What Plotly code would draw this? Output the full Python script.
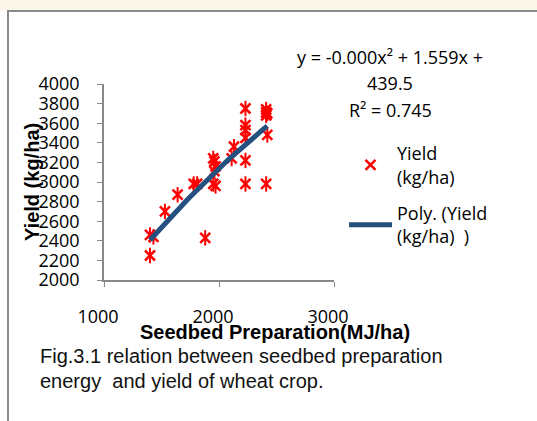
import numpy as np
import plotly.graph_objects as go

# ---- data ----
energy = [1400, 1400, 1430, 1530, 1640, 1780, 1810, 1880, 1950, 1970,
          1950, 1960, 1970, 1960, 2110, 2130, 2230, 2230, 2230, 2230,
          2230, 2230, 2410, 2410, 2410, 2420, 2410, 2420]
yield_kg = [2250, 2460, 2440, 2700, 2870, 2980, 2980, 2430, 2980, 2960,
            3240, 3210, 3160, 3110, 3240, 3360, 3220, 3750, 3580, 3530,
            3450, 2980, 3740, 3710, 3680, 3480, 2980, 3700]
x_ticks = [1000, 2000, 3000]
y_ticks = list(range(2000, 4001, 200))
eq_lines = ["y = -0.000x² + 1.559x +", "439.5", "R² = 0.745"]
caption = ["Fig.3.1 relation between seedbed preparation",
           "energy  and yield of wheat crop."]

# polynomial (order 2) trendline fitted to the data, as Excel does
coef = np.polyfit(energy, yield_kg, 2)
tx = np.linspace(min(energy), max(energy), 60)
ty = np.polyval(coef, tx)

# pixel helpers for layout placement
L, R, T, B = 104, 334, 84, 280
def px(x):
    return (x - L) / (R - L)
def py(y):
    return (B - y) / (B - T)

fig = go.Figure()
fig.add_trace(go.Scatter(
    x=energy, y=yield_kg, mode="markers", name="Yield<br>(kg/ha)",
    legendgroup="a",
    marker=dict(symbol="x-thin-open", size=10, color="#ff0000",
                line=dict(color="#ff0000", width=2.5))))
fig.add_trace(go.Scatter(
    x=energy, y=yield_kg, mode="markers", showlegend=False,
    legendgroup="a", hoverinfo="skip",
    marker=dict(symbol="line-ns-open", size=11, color="#ff0000",
                line=dict(color="#ff0000", width=2))))
fig.add_trace(go.Scatter(
    x=tx, y=ty, mode="lines", name="Poly. (Yield<br>(kg/ha)&nbsp;&nbsp;)",
    legendgroup="b",
    line=dict(color="#24507f", width=5)))

axis_common = dict(showgrid=False, zeroline=False, showline=True,
                   linecolor="#888888", linewidth=1.5, ticks="outside",
                   ticklen=5, tickcolor="#888888", tickwidth=1,
                   tickfont=dict(family="Open Sans", size=18, color="#000000"))

fig.update_xaxes(range=[1000, 3000], tickvals=x_ticks,
                 ticklabelstandoff=15, ticklabelshift=-6, **axis_common)
fig.update_yaxes(range=[2000, 4000], tickvals=y_ticks,
                 ticklabelstandoff=14, **axis_common)

ann = []
eq_y = [57, 83, 110]
for t, yy in zip(eq_lines, eq_y):
    ann.append(dict(text=t, x=px(390), y=py(yy), xref="paper", yref="paper",
                    xanchor="center", yanchor="middle", showarrow=False,
                    font=dict(family="Open Sans", size=18, color="#000000")))
ann.append(dict(text="<b>Yield (kg/ha)</b>", x=px(32), y=py(182),
                xref="paper", yref="paper", textangle=-90, showarrow=False,
                xanchor="center", yanchor="middle",
                font=dict(family="Liberation Sans", size=20, color="#000000")))
ann.append(dict(text="<b>Seedbed Preparation(MJ/ha)</b>", x=px(275), y=py(332),
                xref="paper", yref="paper", showarrow=False,
                xanchor="center", yanchor="middle",
                font=dict(family="Liberation Sans", size=20, color="#000000")))
for t, yy in zip(caption, [356, 381]):
    ann.append(dict(text=t, x=px(38), y=py(yy), xref="paper", yref="paper",
                    xanchor="left", yanchor="middle", showarrow=False,
                    font=dict(family="Liberation Sans", size=20, color="#111111")))

shapes = [
    dict(type="rect", xref="paper", yref="paper", x0=px(-10), x1=px(560),
         y0=py(11), y1=py(-5), fillcolor="#fbf6ea", line=dict(width=0),
         layer="below"),
    dict(type="rect", xref="paper", yref="paper", x0=px(8), x1=px(560),
         y0=py(440), y1=py(11), fillcolor="rgba(0,0,0,0)",
         line=dict(color="#8a8a8a", width=2)),
]

fig.update_layout(
    width=537, height=421,
    margin=dict(l=L, r=537 - R, t=T, b=421 - B, autoexpand=False),
    paper_bgcolor="#ffffff", plot_bgcolor="#ffffff",
    annotations=ann, shapes=shapes,
    showlegend=True,
    legend=dict(x=px(344), y=py(135), xanchor="left", yanchor="top",
                bgcolor="rgba(0,0,0,0)", itemwidth=43, tracegroupgap=10,
                font=dict(family="Open Sans", size=18, color="#000000")),
)

fig.write_html("out.html", config={"displayModeBar": False},
               post_script="document.body.style.margin='0';"
                           "document.body.style.overflow='hidden';")
